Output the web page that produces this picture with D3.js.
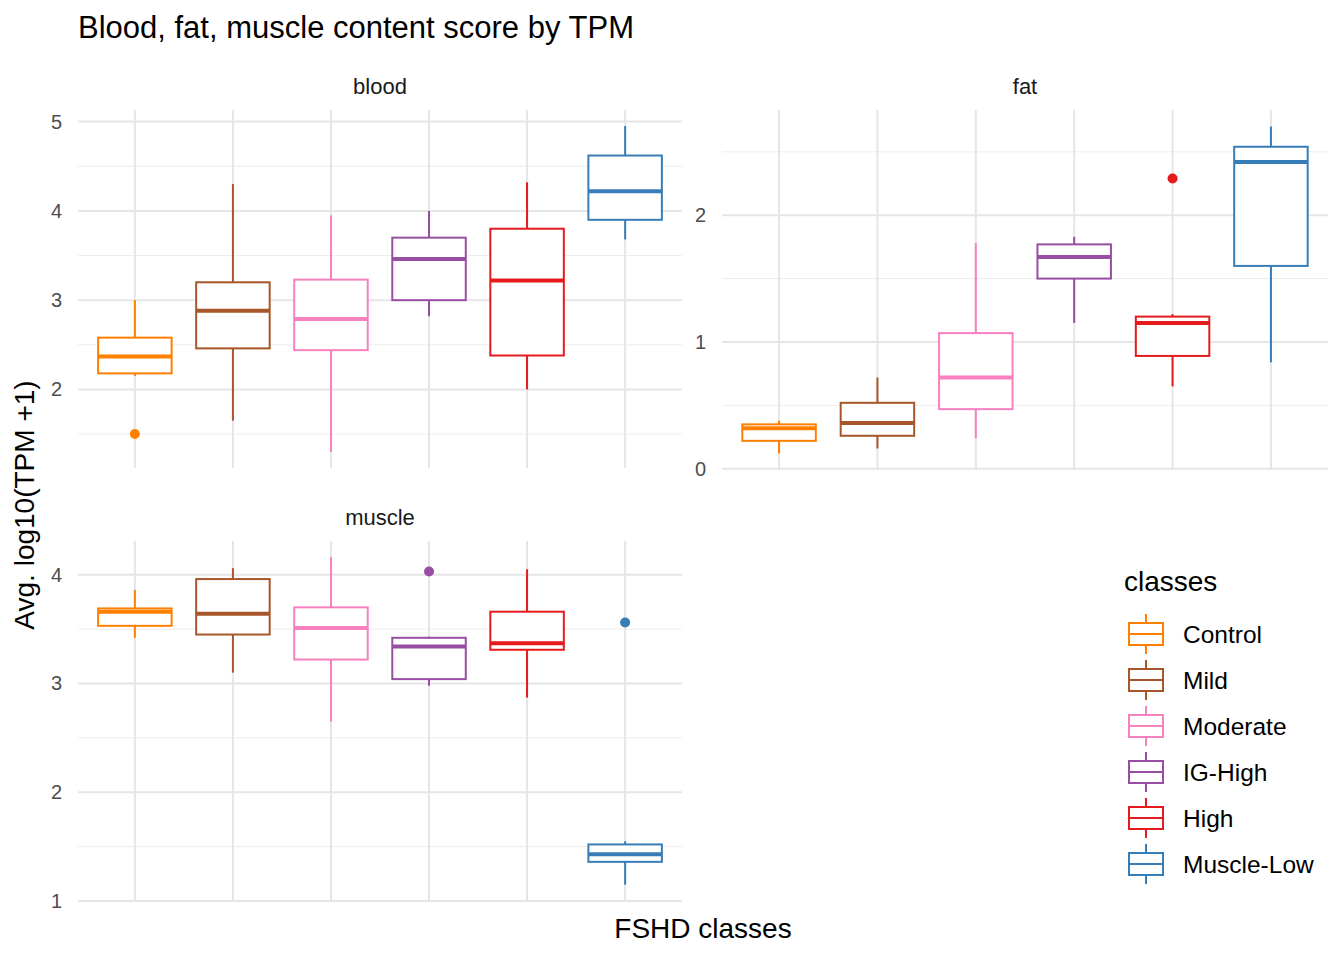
<!DOCTYPE html>
<html><head><meta charset="utf-8">
<script src="https://cdn.jsdelivr.net/npm/d3@7"></script>
<style>body{margin:0;background:#fff}text{font-family:"Liberation Sans",Arial,sans-serif}</style>
</head><body>
<script>
var classes = ["Control","Mild","Moderate","IG-High","High","Muscle-Low"];
var colors = ["#FF7F00","#A65628","#F781BF","#984EA3","#E41A1C","#377EB8"];
// [low, q1, median, q3, high]
var blood = [[2.15,2.18,2.37,2.58,3.0],[1.65,2.46,2.88,3.2,4.3],[1.3,2.44,2.79,3.23,3.95],
             [2.82,3.0,3.46,3.7,4.0],[2.0,2.38,3.22,3.8,4.32],[3.68,3.9,4.22,4.62,4.95]];
var bloodOut = [[0,1.5]];
var fat = [[0.12,0.22,0.32,0.35,0.38],[0.16,0.26,0.36,0.52,0.72],[0.24,0.47,0.72,1.07,1.78],
           [1.15,1.5,1.67,1.77,1.83],[0.65,0.89,1.15,1.2,1.22],[0.84,1.6,2.42,2.54,2.7]];
var fatOut = [[4,2.29]];
var muscle = [[3.42,3.53,3.66,3.69,3.86],[3.1,3.45,3.64,3.96,4.06],[2.65,3.22,3.51,3.7,4.16],
              [2.98,3.04,3.34,3.42,3.43],[2.87,3.31,3.37,3.66,4.05],[1.15,1.36,1.43,1.52,1.55]];
var muscleOut = [[3,4.03],[5,3.56]];

var svg = d3.select("body").append("svg").attr("width",1344).attr("height",960);

function panel(name, data, outs, x0, x1, y0, y1, domain, major, minor) {
  var x = d3.scalePoint().domain(classes).range([x0,x1]).padding(0.58);
  var bw = 98*0.75;
  var y = d3.scaleLinear().domain(domain).range([y1,y0]);
  var g = svg.append("g");
  minor.forEach(function(v){ g.append("line").attr("x1",x0).attr("x2",x1).attr("y1",y(v)).attr("y2",y(v)).attr("stroke","#ededed").attr("stroke-width",1); });
  major.forEach(function(v){ g.append("line").attr("x1",x0).attr("x2",x1).attr("y1",y(v)).attr("y2",y(v)).attr("stroke","#e6e6e6").attr("stroke-width",2);
    g.append("text").attr("x",x0-16).attr("y",y(v)).attr("dy","0.35em").attr("text-anchor","end").attr("font-size",20).attr("fill","#4d4d4d").text(v); });
  classes.forEach(function(c){ g.append("line").attr("x1",x(c)).attr("x2",x(c)).attr("y1",y0).attr("y2",y1).attr("stroke","#e6e6e6").attr("stroke-width",2); });
  g.append("text").attr("x",(x0+x1)/2).attr("y",y0-16).attr("text-anchor","middle").attr("font-size",22).attr("fill","#1a1a1a").text(name);
  data.forEach(function(d,i){
    var cx = x(classes[i]), col = colors[i];
    g.append("line").attr("x1",cx).attr("x2",cx).attr("y1",y(d[4])).attr("y2",y(d[3])).attr("stroke",col).attr("stroke-width",2);
    g.append("line").attr("x1",cx).attr("x2",cx).attr("y1",y(d[1])).attr("y2",y(d[0])).attr("stroke",col).attr("stroke-width",2);
    g.append("rect").attr("x",cx-bw/2).attr("width",bw).attr("y",y(d[3])).attr("height",y(d[1])-y(d[3]))
      .attr("fill","white").attr("stroke",col).attr("stroke-width",2);
    g.append("line").attr("x1",cx-bw/2).attr("x2",cx+bw/2).attr("y1",y(d[2])).attr("y2",y(d[2])).attr("stroke",col).attr("stroke-width",4);
  });
  outs.forEach(function(o){ g.append("circle").attr("cx",x(classes[o[0]])).attr("cy",y(o[1])).attr("r",5).attr("fill",colors[o[0]]); });
}

panel("blood", blood, bloodOut, 78, 682, 110, 468, [1.12,5.13], [2,3,4,5], [1.5,2.5,3.5,4.5]);
panel("fat", fat, fatOut, 722, 1328, 110, 470, [-0.01,2.83], [0,1,2], [0.5,1.5,2.5]);
panel("muscle", muscle, muscleOut, 78, 682, 541, 901, [1.0,4.31], [1,2,3,4], [1.5,2.5,3.5]);

svg.append("text").attr("x",78).attr("y",38).attr("font-size",31).attr("fill","#000").text("Blood, fat, muscle content score by TPM");
svg.append("text").attr("x",703).attr("y",938).attr("text-anchor","middle").attr("font-size",28).attr("fill","#000").text("FSHD classes");
svg.append("text").attr("transform","translate(34,505) rotate(-90)").attr("text-anchor","middle").attr("font-size",28).attr("fill","#000").text("Avg. log10(TPM +1)");

var leg = svg.append("g");
leg.append("text").attr("x",1124).attr("y",591).attr("font-size",28).attr("fill","#000").text("classes");
classes.forEach(function(c,i){
  var cy = 634 + i*46;
  leg.append("line").attr("x1",1146).attr("x2",1146).attr("y1",cy-20).attr("y2",cy+20).attr("stroke",colors[i]).attr("stroke-width",2);
  leg.append("rect").attr("x",1129).attr("y",cy-11).attr("width",34).attr("height",22).attr("fill","white").attr("stroke",colors[i]).attr("stroke-width",2);
  leg.append("line").attr("x1",1129).attr("x2",1163).attr("y1",cy).attr("y2",cy).attr("stroke",colors[i]).attr("stroke-width",2);
  leg.append("text").attr("x",1183).attr("y",cy).attr("dy","0.35em").attr("font-size",24.5).attr("fill","#000").text(c);
});
</script>
</body></html>
